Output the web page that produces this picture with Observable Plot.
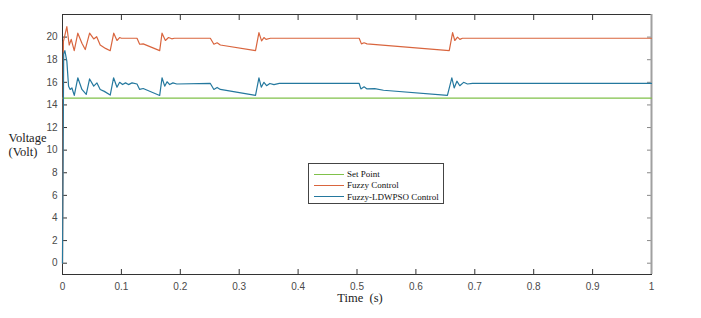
<!DOCTYPE html>
<html>
<head>
<meta charset="utf-8">
<script src="https://cdn.jsdelivr.net/npm/d3@7"></script>
<script src="https://cdn.jsdelivr.net/npm/@observablehq/plot@0.6"></script>
<style>
  html, body { margin: 0; padding: 0; background: #fff; }
  #wrap { position: relative; width: 701px; height: 318px; }
  #legend { position: absolute; left: 308px; top: 163px; width: 134px; height: 39px;
    border: 1px solid #444; background: #fff; font-family: "Liberation Serif", "Times New Roman", serif;
    font-size: 9px; color: #111; box-sizing: content-box; white-space: nowrap; }
  #legend .row { position: absolute; left: 5px; height: 12px; display: flex; align-items: center; white-space: nowrap; }
  #legend .sw { display: inline-block; width: 30px; height: 0; border-top: 1.2px solid; margin-right: 3px; flex: none; }
</style>
</head>
<body>
<div id="wrap"></div>
<script>
// ---- data ----
const seriesNames = ["Set Point", "Fuzzy Control", "Fuzzy-LDWPSO Control"];
const seriesColors = ["#80c14a", "#d9653e", "#24789e"];

const setPointT = [0, 1];
const setPointV = [14.6, 14.6];

const fuzzyT = [0, 0.0015, 0.0074, 0.0114, 0.0148, 0.0199, 0.026, 0.033, 0.0386, 0.046, 0.053, 0.058, 0.064, 0.073, 0.081, 0.087, 0.0925, 0.097, 0.100, 0.1265, 0.131, 0.137, 0.165, 0.169, 0.1747, 0.18, 0.1855, 0.19, 0.251, 0.257, 0.2625, 0.268, 0.3277, 0.3335, 0.338, 0.342, 0.3455, 0.353, 0.5037, 0.5075, 0.512, 0.517, 0.6566, 0.6623, 0.666, 0.6707, 0.6747, 0.679, 1];
const fuzzyV = [0, 19.6, 20.92, 19.3, 19.8, 18.8, 20.35, 19.46, 18.9, 20.35, 19.84, 20.04, 19.3, 19.0, 18.8, 20.35, 19.7, 19.96, 19.9, 19.9, 19.37, 19.4, 18.8, 20.35, 19.7, 19.96, 19.85, 19.9, 19.9, 19.37, 19.5, 19.3, 18.8, 20.4, 19.67, 19.96, 19.8, 19.9, 19.9, 19.4, 19.5, 19.4, 18.8, 20.4, 19.7, 20.0, 19.8, 19.9, 19.9];

const psoT = [0, 0.002, 0.004, 0.0074, 0.0103, 0.013, 0.016, 0.02, 0.026, 0.033, 0.0403, 0.046, 0.053, 0.0585, 0.064, 0.071, 0.081, 0.0867, 0.0925, 0.097, 0.102, 0.107, 0.112, 0.118, 0.1265, 0.131, 0.137, 0.165, 0.169, 0.1735, 0.1775, 0.182, 0.1875, 0.194, 0.251, 0.257, 0.2625, 0.268, 0.3277, 0.3335, 0.3375, 0.342, 0.3465, 0.352, 0.359, 0.368, 0.5037, 0.5066, 0.512, 0.517, 0.53, 0.545, 0.6535, 0.661, 0.665, 0.6696, 0.6745, 0.681, 0.6875, 0.696, 1];
const psoV = [0, 18.5, 18.8, 17.85, 15.66, 15.37, 15.5, 14.84, 16.4, 15.37, 14.93, 16.3, 15.66, 15.95, 15.37, 15.2, 14.87, 16.4, 15.57, 16.0, 15.8, 15.95, 15.8, 15.95, 15.85, 15.37, 15.45, 14.84, 16.4, 15.66, 16.05, 15.8, 15.95, 15.85, 15.9, 15.37, 15.55, 15.37, 14.84, 16.4, 15.57, 16.0, 15.7, 15.9, 15.8, 15.9, 15.9, 15.42, 15.6, 15.42, 15.45, 15.3, 14.84, 16.4, 15.5, 16.1, 15.7, 16.0, 15.85, 15.9, 15.9];

const xTicks = [0, 0.1, 0.2, 0.3, 0.4, 0.5, 0.6, 0.7, 0.8, 0.9, 1];
const yTicks = [0, 2, 4, 6, 8, 10, 12, 14, 16, 18, 20];
const xLabel = "Time\u00a0 (s)";
const yLabel = "Voltage\n(Volt)";

// ---- build ----
const toRows = (T, V, s) => T.map((t, i) => ({t, v: V[i], s}));
const rows = [
  ...toRows(setPointT, setPointV, seriesNames[0]),
  ...toRows(fuzzyT, fuzzyV, seriesNames[1]),
  ...toRows(psoT, psoV, seriesNames[2])
];

const chart = Plot.plot({
  width: 701,
  height: 318,
  marginLeft: 62,
  marginRight: 50,
  marginTop: 14,
  marginBottom: 44,
  style: {fontFamily: "'Liberation Sans', Arial, sans-serif", fontSize: "10px", color: "#333", background: "#fff"},
  x: {domain: [0, 1]},
  y: {domain: [-1, 22]},
  color: {domain: seriesNames, range: seriesColors},
  marks: [
    Plot.axisX({ticks: xTicks, tickSize: -5, tickPadding: 13, tickFormat: d => String(d), label: null, fill: "#4a4a4a"}),
    Plot.axisX({anchor: "top", ticks: xTicks, tickSize: -5, tickFormat: () => "", label: null}),
    Plot.axisY({ticks: yTicks, tickSize: -5, tickPadding: 10, label: null, fill: "#4a4a4a"}),
    Plot.axisY({anchor: "right", ticks: yTicks, tickSize: -5, tickFormat: () => "", label: null, stroke: "#888"}),
    Plot.frame({stroke: "#333"}),
    Plot.ruleX([1], {stroke: "#a0a0a0", strokeWidth: 2}),
    Plot.line(rows, {x: "t", y: "v", z: "s", stroke: "s", strokeWidth: 1.2}),
    Plot.text([xLabel], {frameAnchor: "bottom", dy: 27, dx: 3, fontFamily: "'Liberation Serif', 'Times New Roman', serif", fontSize: 12.5, fill: "#222"}),
    Plot.text([yLabel], {frameAnchor: "left", dx: -54, textAnchor: "start", lineHeight: 1.15, fontFamily: "'Liberation Serif', 'Times New Roman', serif", fontSize: 12.5, fill: "#222"})
  ]
});

const wrap = document.getElementById("wrap");
wrap.appendChild(chart);

// legend
const legend = document.createElement("div");
legend.id = "legend";
seriesNames.forEach((name, i) => {
  const row = document.createElement("div");
  row.className = "row";
  row.style.top = (4 + i * 11.3) + "px";
  const sw = document.createElement("span");
  sw.className = "sw";
  sw.style.borderColor = seriesColors[i];
  const lab = document.createElement("span");
  lab.textContent = name;
  row.appendChild(sw);
  row.appendChild(lab);
  legend.appendChild(row);
});
wrap.appendChild(legend);
</script>
</body>
</html>
